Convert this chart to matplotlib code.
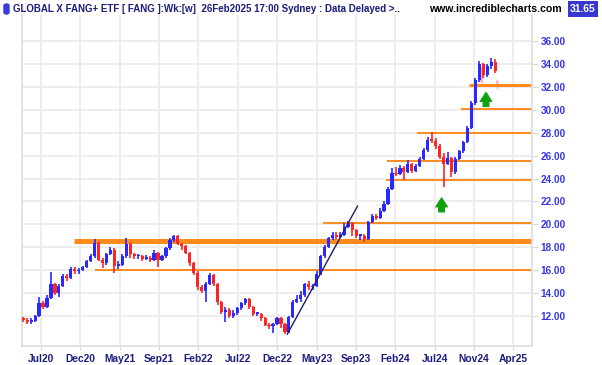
import matplotlib.pyplot as plt
from matplotlib.patches import FancyBboxPatch

plt.rcParams['font.family'] = ['Liberation Sans', 'DejaVu Sans']

# fortnightly bars (open = previous close)
first_open = 11.8
close = [11.7, 11.5, 11.6, 12.0, 13.1, 12.8, 13.6, 14.8, 14.0, 14.6,
         15.5, 15.3, 16.1, 15.9, 16.0, 16.3, 16.8, 17.2, 18.4, 16.9,
         16.6, 17.4, 17.8, 16.4, 16.5, 17.2, 18.3, 17.4, 17.2, 17.2,
         17.0, 17.1, 16.9, 17.5, 16.9, 17.2, 17.9, 18.6, 19.0, 18.3,
         18.1, 17.5, 16.6, 15.8, 14.5, 14.2, 14.8, 15.6, 14.8, 13.2,
         12.4, 12.5, 12.0, 12.3, 12.7, 13.1, 13.5, 12.8, 12.2, 12.2,
         11.8, 11.2, 11.1, 11.3, 11.8, 11.3, 10.6, 11.9, 13.2, 13.5,
         13.8, 14.8, 14.5, 14.6, 15.7, 17.2, 18.0, 18.8, 19.1, 18.9,
         19.1, 19.8, 20.1, 19.5, 19.0, 19.0, 18.7, 20.2, 20.7, 20.6,
         21.2, 21.8, 23.1, 24.5, 24.4, 24.9, 24.6, 25.3, 24.7, 25.1,
         25.7, 26.5, 27.4, 27.3, 26.8, 25.9, 25.3, 25.8, 24.6, 25.7,
         26.4, 27.2, 28.4, 30.6, 32.6, 34.0, 33.0, 33.8, 34.2, 33.4]
high = [11.9, 11.8, 11.8, 12.1, 13.7, 13.3, 13.8, 15.85, 14.9, 14.8,
        15.7, 15.7, 16.3, 16.3, 16.2, 16.4, 16.9, 17.4, 18.7, 18.5,
        17.1, 17.5, 18.0, 17.9, 16.8, 17.4, 18.8, 18.4, 17.5, 17.4,
        17.3, 17.3, 17.2, 17.8, 17.6, 17.3, 18.0, 18.8, 19.1, 19.1,
        18.4, 18.2, 17.6, 16.7, 15.9, 14.7, 15.0, 15.8, 15.7, 14.9,
        13.3, 12.8, 12.7, 12.5, 12.8, 13.2, 13.6, 13.6, 12.9, 12.4,
        12.3, 11.9, 11.4, 11.4, 11.9, 11.9, 11.4, 12.0, 13.4, 13.8,
        14.2, 14.9, 15.1, 14.8, 15.9, 17.3, 18.2, 18.9, 19.3, 19.3,
        19.3, 20.1, 20.3, 20.2, 19.6, 19.2, 19.2, 20.3, 20.9, 20.9,
        21.4, 22.0, 23.3, 24.9, 25.0, 25.2, 25.1, 25.6, 25.4, 25.3,
        25.9, 26.7, 27.6, 28.1, 27.5, 27.0, 26.2, 26.3, 25.9, 25.9,
        26.5, 27.3, 28.6, 30.8, 32.8, 34.3, 34.1, 34.0, 34.5, 34.4]
low = [11.5, 11.3, 11.3, 11.5, 11.9, 12.6, 12.7, 13.5, 13.8, 13.7,
       14.5, 15.1, 15.2, 15.7, 15.7, 15.9, 16.2, 16.7, 17.1, 16.8,
       16.2, 16.5, 17.3, 15.8, 16.1, 16.4, 17.1, 17.1, 17.0, 17.0,
       16.8, 16.9, 16.7, 16.8, 16.3, 16.8, 17.1, 17.8, 18.5, 18.2,
       17.8, 17.4, 16.4, 15.6, 14.3, 14.0, 13.2, 14.7, 14.6, 13.0,
       12.2, 11.5, 11.8, 11.8, 12.1, 12.5, 13.0, 12.6, 12.0, 12.0,
       11.6, 11.1, 10.9, 10.5, 11.2, 11.0, 10.4, 10.5, 11.8, 13.1,
       13.2, 13.7, 14.3, 14.3, 14.5, 15.6, 17.1, 17.9, 18.6, 18.7,
       18.8, 19.0, 19.7, 19.0, 18.8, 18.6, 18.5, 18.6, 20.1, 20.4,
       20.5, 21.1, 21.7, 23.0, 24.2, 24.3, 23.9, 24.5, 24.5, 24.6,
       25.0, 25.6, 26.3, 27.1, 26.6, 25.7, 23.3, 25.2, 24.1, 24.4,
       25.6, 26.2, 27.1, 28.3, 30.4, 32.4, 32.8, 32.9, 33.6, 33.2]

# faded intraweek bars near the end
ghost_pos = [115.6, 119.5]
ghost_low = [32.3, 31.8]
ghost_high = [33.9, 32.7]

# horizontal support / resistance lines: level, start bar, width
levels = [18.55, 16.0, 20.15, 23.85, 25.5, 28.0, 30.1, 32.15]
level_start = [12.8, 18.1, 75.7, 91.6, 91.8, 99.4, 110.4, 112.5]
level_lw = [3.6, 1.4, 1.4, 1.4, 1.4, 1.4, 1.4, 2.2]

trend_x = [66.6, 84.3]
trend_y = [10.43, 21.6]

arrow_x = [105.5, 116.7]
arrow_tip = [22.3, 31.5]
arrow_base = [21.1, 30.3]

x_tick_pos = [4.4, 14.4, 24.4, 34.3, 44.2, 54.2, 64.1, 74.1, 83.9, 93.8, 103.8, 113.7, 123.6]
x_tick_labels = ['Jul20', 'Dec20', 'May21', 'Sep21', 'Feb22', 'Jul22', 'Dec22',
                 'May23', 'Sep23', 'Feb24', 'Jul24', 'Nov24', 'Apr25']
y_ticks = list(range(12, 37, 2))

UP = '#2828ff'
DOWN = '#ff2424'
ORANGE = '#ff8a1c'

fig = plt.figure(figsize=(6.02, 3.65), dpi=100)
ax = fig.add_axes([22 / 602, 1 - 346 / 365, 510 / 602, 331 / 365])
ax.set_xlim(-0.3, 128.3)
ax.set_ylim(9.39, 38.27)

opens = [first_open] + close[:-1]
for i in range(len(close)):
    o, c = opens[i], close[i]
    col = UP if c >= o else DOWN
    ax.vlines(i, low[i], high[i], color=col, lw=1.2, zorder=3)
    ax.bar(i, max(abs(c - o), 0.12), bottom=min(o, c), width=0.8, color=col,
           lw=0, zorder=3)

for p, lo, hi in zip(ghost_pos, ghost_low, ghost_high):
    ax.vlines(p, lo, hi, color='#ffb3b3', lw=1.0, zorder=2)
    ax.bar(p, hi - lo - 0.3, bottom=lo + 0.15, width=0.6, color='#ffb3b3', lw=0, zorder=2)

right_end = ax.get_xlim()[1]
for lev, st, lw in zip(levels, level_start, level_lw):
    ax.hlines(lev, st, right_end, color=ORANGE, lw=lw, zorder=2)

ax.plot(trend_x, trend_y, color='#1c1c6a', lw=1.0, zorder=4)

for x, tip, base in zip(arrow_x, arrow_tip, arrow_base):
    ax.annotate('', xy=(x, tip), xytext=(x, base),
                arrowprops=dict(arrowstyle='simple,head_width=0.9,head_length=0.7,tail_width=0.45',
                                color='#10a010', mutation_scale=9, shrinkA=0, shrinkB=0))

# axes styling
ax.yaxis.tick_right()
ax.set_yticks(y_ticks)
ax.set_yticklabels(['%.2f' % v for v in y_ticks], fontweight='bold')
ax.set_xticks(x_tick_pos)
ax.set_xticklabels(x_tick_labels, fontweight='bold')
ax.tick_params(axis='y', length=4, color='#d8d8d8', labelcolor='#3535e6', labelsize=7.2, pad=2)
ax.tick_params(axis='x', length=3, color='#d8d8d8', labelcolor='#1c1c80', labelsize=7.4, pad=3)
ax.grid(color='#ececec', lw=1.3)
ax.set_axisbelow(True)
ax.spines['top'].set_visible(False)
for s in ['left', 'bottom', 'right']:
    ax.spines[s].set_color('#dddddd')
    ax.spines[s].set_linewidth(1.2)

# header
fig.patches.append(FancyBboxPatch((4 / 602, 1 - 14 / 365), 5 / 602, 10 / 365,
                                  boxstyle='round,pad=0,rounding_size=0.004',
                                  transform=fig.transFigure, color='#3a3ae0'))
fig.text(13 / 602, 1 - 9 / 365,
         'GLOBAL X FANG+ ETF [ FANG ]:Wk:[w]  26Feb2025 17:00 Sydney : Data Delayed >..',
         fontsize=7.05, fontweight='bold', color='#1c1c7c', va='center')
fig.text(429 / 602, 1 - 9 / 365, 'www.incrediblecharts.com',
         fontsize=7.6, fontweight='bold', color='black', va='center')
fig.text(583 / 602, 1 - 9 / 365, '31.65', fontsize=7.4, fontweight='bold', color='white',
         va='center', ha='center',
         bbox=dict(boxstyle='square,pad=0.25', fc='#3838d0', ec='none'))

fig.savefig('out.png', dpi=100)
